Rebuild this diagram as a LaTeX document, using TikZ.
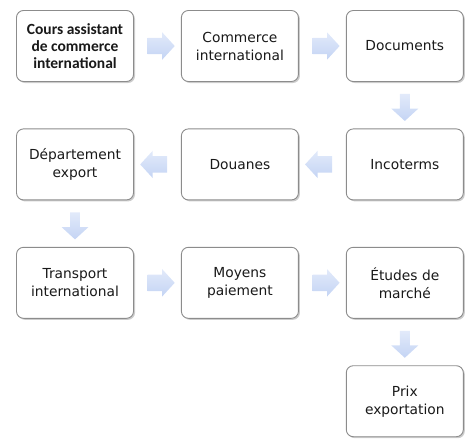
\documentclass[tikz,border=0pt]{standalone}
\usepackage{fontspec}
\setmainfont{DejaVu Sans}
\newfontfamily\titre{Carlito}
\usetikzlibrary{positioning,calc,shapes.arrows,shadows}
\definecolor{bord}{RGB}{140,140,140}
\definecolor{texte}{RGB}{25,25,25}
\definecolor{flechA}{RGB}{226,234,250}
\definecolor{flechB}{RGB}{196,212,244}
\tikzset{
  boite/.style={draw=bord, line width=0.9pt, rounded corners=7pt, fill=white,
    minimum width=117pt, minimum height=71pt, align=center, text=texte,
    font=\fontsize{13.8}{18}\selectfont,
    drop shadow={shadow xshift=1.5pt, shadow yshift=-1.5pt, fill=black!40, opacity=0.5}},
  fleche/.style={single arrow, draw=none, inner xsep=3pt, inner ysep=8pt,
    minimum width=27pt, minimum height=27pt, single arrow head extend=5.5pt,
    single arrow tip angle=95, top color=flechA, bottom color=flechB},
}
\begin{document}
\begin{tikzpicture}[x=1pt,y=1pt]
\useasboundingbox (0,0) rectangle (468,-445);
% rangee 1
\node[boite, font=\titre\bfseries\fontsize{15.5}{17}\selectfont] (cours) at (75,-46) {Cours assistant\\de commerce\\international};
\node[boite, right=47pt of cours] (commerce) {Commerce\\international};
\node[boite, right=47pt of commerce] (documents) {Documents};
% rangee 2
\node[boite, below=46.5pt of documents] (incoterms) {Incoterms};
\node[boite, left=47pt of incoterms] (douanes) {Douanes};
\node[boite, left=47pt of douanes] (departement) {Département\\export};
% rangee 3
\node[boite, below=46.5pt of departement] (transport) {Transport\\international};
\node[boite, right=47pt of transport] (moyens) {Moyens\\paiement};
\node[boite, right=47pt of moyens] (etudes) {Études de\\marché};
% rangee 4
\node[boite, below=46.5pt of etudes] (prix) {Prix\\exportation};
% fleches
\node[fleche] at ($(cours.east)!0.5!(commerce.west)$) {};
\node[fleche] at ($(commerce.east)!0.5!(documents.west)$) {};
\node[fleche, shape border rotate=270] at ($(documents.south)!0.5!(incoterms.north)$) {};
\node[fleche, shape border rotate=180] at ($(incoterms.west)!0.5!(douanes.east)$) {};
\node[fleche, shape border rotate=180] at ($(douanes.west)!0.5!(departement.east)$) {};
\node[fleche, shape border rotate=270] at ($(departement.south)!0.5!(transport.north)$) {};
\node[fleche] at ($(transport.east)!0.5!(moyens.west)$) {};
\node[fleche] at ($(moyens.east)!0.5!(etudes.west)$) {};
\node[fleche, shape border rotate=270] at ($(etudes.south)!0.5!(prix.north)$) {};
\end{tikzpicture}
\end{document}
